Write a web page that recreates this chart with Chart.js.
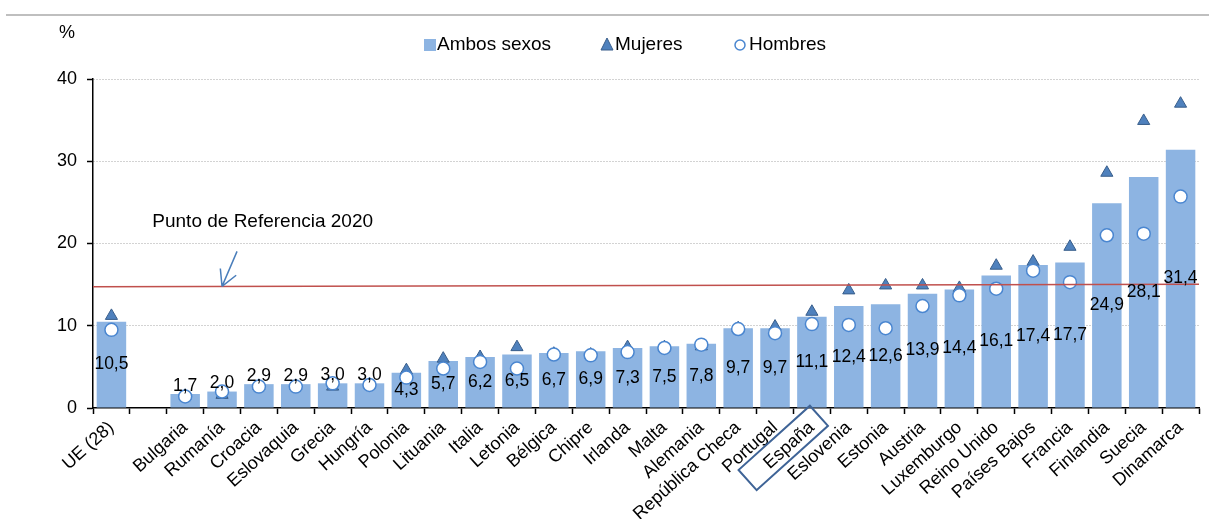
<!DOCTYPE html>
<html>
<head>
<meta charset="utf-8">
<script src="https://cdn.jsdelivr.net/npm/chart.js@4/dist/chart.umd.min.js"></script>
<style>
  html, body { margin: 0; padding: 0; background: #ffffff; }
</style>
</head>
<body>
<canvas id="chart" width="1209" height="519"></canvas>
<script>
const categories = ['UE (28)', '', 'Bulgaria', 'Rumanía', 'Croacia', 'Eslovaquia', 'Grecia', 'Hungría',
  'Polonia', 'Lituania', 'Italia', 'Letonia', 'Bélgica', 'Chipre', 'Irlanda', 'Malta', 'Alemania',
  'República Checa', 'Portugal', 'España', 'Eslovenia', 'Estonia', 'Austria', 'Luxemburgo',
  'Reino Unido', 'Países Bajos', 'Francia', 'Finlandia', 'Suecia', 'Dinamarca'];

const ambosSexos = [10.5, null, 1.7, 2.0, 2.9, 2.9, 3.0, 3.0, 4.3, 5.7, 6.2, 6.5, 6.7, 6.9, 7.3,
  7.5, 7.8, 9.7, 9.7, 11.1, 12.4, 12.6, 13.9, 14.4, 16.1, 17.4, 17.7, 24.9, 28.1, 31.4];

const mujeres = [11.2, null, 1.5, 1.6, 2.7, 2.7, 2.6, 2.9, 4.6, 6.0, 6.2, 7.4, 6.6, 6.5, 7.4,
  7.4, 7.5, 9.7, 9.9, 11.7, 14.3, 14.9, 14.9, 14.6, 17.3, 17.8, 19.6, 28.6, 34.9, 37.0];

const hombres = [9.5, null, 1.4, 2.0, 2.6, 2.6, 3.0, 2.8, 3.7, 4.8, 5.6, 4.8, 6.5, 6.4, 6.8,
  7.3, 7.7, 9.6, 9.1, 10.2, 10.1, 9.7, 12.4, 13.7, 14.5, 16.7, 15.3, 21.0, 21.2, 25.7];

const yTicks = [0, 10, 20, 30, 40];

// benchmark line, value at left and right end of the plot
const referencia = [14.75, 15.05];
const referenciaLabel = 'Punto de Referencia 2020';
const highlighted = 'España';

const FONT = '"Liberation Sans", Arial, sans-serif';
const BAR = '#8DB4E2';
const TRI_FILL = '#4F81BD';
const TRI_LINE = '#385D8A';
const CIRCLE_LINE = '#4A86D0';
const LABEL_ROTATION = 42;

const fmt = v => v.toFixed(1).replace('.', ',');

const extras = {
  id: 'extras',
  afterDatasetsDraw(chart) {
    const { ctx, chartArea, scales: { x, y } } = chart;
    ctx.save();

    // benchmark line (slightly tilted, as drawn by hand)
    const y0 = y.getPixelForValue(referencia[0]);
    const y1 = y.getPixelForValue(referencia[1]);
    ctx.strokeStyle = '#C0504D';
    ctx.lineWidth = 1.5;
    ctx.beginPath();
    ctx.moveTo(chartArea.left, y0);
    ctx.lineTo(chartArea.right, y1);
    ctx.stroke();

    // arrow pointing at the benchmark line
    const tipX = x.getPixelForValue(3);
    const tipY = y0 + (y1 - y0) * (tipX - chartArea.left) / (chartArea.right - chartArea.left);
    const sx = tipX + 15, sy = tipY - 35;
    ctx.strokeStyle = '#4A7EBB';
    ctx.lineWidth = 1.5;
    ctx.beginPath();
    ctx.moveTo(sx, sy);
    ctx.lineTo(tipX, tipY);
    const ang = Math.atan2(sy - tipY, sx - tipX);
    [-0.5, 0.5].forEach(d => {
      ctx.moveTo(tipX, tipY);
      ctx.lineTo(tipX + 18 * Math.cos(ang + d), tipY + 18 * Math.sin(ang + d));
    });
    ctx.stroke();

    ctx.fillStyle = '#000';
    ctx.font = '19px ' + FONT;
    ctx.textAlign = 'left';
    ctx.textBaseline = 'middle';
    ctx.fillText(referenciaLabel, x.getPixelForValue(1) + 4, tipY - 65);

    // value labels of the bars
    ctx.font = '17.5px ' + FONT;
    ctx.textAlign = 'center';
    chart.getDatasetMeta(0).data.forEach((bar, i) => {
      const v = ambosSexos[i];
      if (v == null) return;
      const ty = v >= 4 ? (bar.y + bar.base) / 2 : bar.y - 8;
      ctx.fillText(fmt(v), bar.x, ty);
    });

    // frame around the highlighted country name
    const hi = categories.indexOf(highlighted);
    ctx.translate(x.getPixelForValue(hi), chartArea.bottom);
    ctx.rotate(-LABEL_ROTATION * Math.PI / 180);
    ctx.strokeStyle = '#3F6497';
    ctx.lineWidth = 2;
    ctx.strokeRect(-96, -3, 96, 27);
    ctx.restore();
  },
  afterDraw(chart) {
    const { ctx } = chart;
    ctx.save();
    // top rule
    ctx.strokeStyle = '#BFBFBF';
    ctx.lineWidth = 2;
    ctx.beginPath();
    ctx.moveTo(6, 15);
    ctx.lineTo(1209, 15);
    ctx.stroke();

    ctx.fillStyle = '#000';
    ctx.font = '18px ' + FONT;
    ctx.textAlign = 'left';
    ctx.textBaseline = 'middle';
    ctx.fillText('%', 59, 33);

    // legend
    const ly = 45;
    const ds = chart.data.datasets;
    ctx.font = '19px ' + FONT;
    ctx.fillStyle = BAR;
    ctx.fillRect(424, ly - 6, 12, 12);
    ctx.fillStyle = '#000';
    ctx.fillText(ds[0].label, 437, ly);

    ctx.fillStyle = TRI_FILL;
    ctx.strokeStyle = TRI_LINE;
    ctx.lineWidth = 1;
    ctx.beginPath();
    ctx.moveTo(607, ly - 7);
    ctx.lineTo(613, ly + 5);
    ctx.lineTo(601, ly + 5);
    ctx.closePath();
    ctx.fill();
    ctx.stroke();
    ctx.fillStyle = '#000';
    ctx.fillText(ds[1].label, 615, ly);

    ctx.fillStyle = '#fff';
    ctx.strokeStyle = CIRCLE_LINE;
    ctx.lineWidth = 1.5;
    ctx.beginPath();
    ctx.arc(740, ly, 5, 0, Math.PI * 2);
    ctx.fill();
    ctx.stroke();
    ctx.fillStyle = '#000';
    ctx.fillText(ds[2].label, 749, ly);
    ctx.restore();
  }
};

new Chart(document.getElementById('chart'), {
  type: 'bar',
  data: {
    labels: categories,
    datasets: [
      {
        label: 'Ambos sexos',
        data: ambosSexos,
        backgroundColor: BAR,
        barPercentage: 0.8,
        categoryPercentage: 1,
        order: 3
      },
      {
        type: 'line',
        label: 'Mujeres',
        data: mujeres,
        showLine: false,
        pointStyle: 'triangle',
        pointRadius: 7,
        pointBackgroundColor: TRI_FILL,
        pointBorderColor: TRI_LINE,
        pointBorderWidth: 1,
        order: 2
      },
      {
        type: 'line',
        label: 'Hombres',
        data: hombres,
        showLine: false,
        pointStyle: 'circle',
        pointRadius: 6.5,
        pointBackgroundColor: '#ffffff',
        pointBorderColor: CIRCLE_LINE,
        pointBorderWidth: 1.5,
        order: 1
      }
    ]
  },
  options: {
    responsive: false,
    animation: false,
    layout: { padding: { top: 79, right: 10, left: 0, bottom: 0 } },
    plugins: {
      legend: { display: false },
      tooltip: { enabled: false }
    },
    scales: {
      x: {
        offset: true,
        grid: {
          offset: true,
          drawOnChartArea: false,
          tickLength: 6,
          tickColor: '#000',
          tickWidth: 1.5
        },
        border: { color: '#000', width: 1.5 },
        ticks: {
          color: '#000',
          font: { family: FONT, size: 18 },
          minRotation: LABEL_ROTATION,
          maxRotation: LABEL_ROTATION,
          autoSkip: false,
          padding: 3
        },
        afterFit(s) { s.height = 111; }
      },
      y: {
        min: 0,
        max: 40,
        afterBuildTicks(s) { s.ticks = yTicks.map(v => ({ value: v })); },
        grid: {
          color: c => c.tick && c.tick.value === 0 ? 'rgba(0,0,0,0)' : '#A6A6A6',
          lineWidth: 1,
          tickLength: 6,
          tickColor: '#000',
          tickWidth: 1.5
        },
        border: { color: '#000', width: 1.5, dash: [1, 2] },
        ticks: {
          color: '#000',
          font: { family: FONT, size: 18 },
          padding: 10
        },
        afterFit(s) { s.width = 93; }
      }
    }
  },
  plugins: [extras]
});
</script>
</body>
</html>
